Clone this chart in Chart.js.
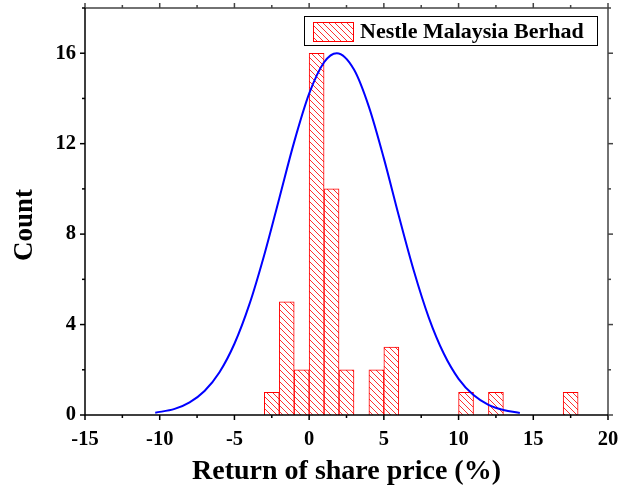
<!DOCTYPE html>
<html>
<head>
<meta charset="utf-8">
<script src="https://cdn.jsdelivr.net/npm/chart.js@4"></script>
<style>
  body { margin: 0; background: #fff; }
  #wrap { width: 624px; height: 490px; position: relative; }
</style>
</head>
<body>
<div id="wrap"><canvas id="chart-1"></canvas></div>
<script>
// histogram bins (left edge of each 1% wide bin) and counts
const binStart = [-3, -2, -1, 0, 1, 2, 4, 5, 10, 12, 17];
const counts = [1, 5, 2, 16, 10, 2, 2, 3, 1, 1, 1];

// fitted normal curve
const curveX = [-10.3, -9, -8, -7, -6, -5, -4, -3, -2, -1, 0, 1, 1.85, 3, 4, 5, 6, 7, 8, 9, 10, 11, 12, 13, 14.1];
const curveY = [0.1, 0.27, 0.56, 1.06, 1.89, 3.15, 4.89, 7.09, 9.58, 12.08, 14.21, 15.6, 16, 15.28, 13.63, 11.35, 8.81, 6.39, 4.32, 2.73, 1.6, 0.88, 0.45, 0.22, 0.09];

const xTicks = [-15, -10, -5, 0, 5, 10, 15, 20];
const yTicks = [0, 4, 8, 12, 16];

const serif = "'Liberation Serif', 'Times New Roman', serif";

function hatch() {
  const s = 6;
  const c = document.createElement('canvas');
  c.width = s; c.height = s;
  const g = c.getContext('2d');
  g.fillStyle = '#fff';
  g.fillRect(0, 0, s, s);
  g.strokeStyle = '#ff3030';
  g.lineWidth = 1;
  g.beginPath();
  g.moveTo(0, 0); g.lineTo(s, s);
  g.moveTo(-1, s - 1); g.lineTo(1, s + 1);
  g.moveTo(s - 1, -1); g.lineTo(s + 1, 1);
  g.stroke();
  return g.createPattern(c, 'repeat');
}
const pattern = hatch();

const frame = {
  id: 'frame',
  afterDatasetsDraw(chart) {
    const ctx = chart.ctx;
    const a = chart.chartArea;
    const xs = chart.scales.x, ys = chart.scales.y;
    ctx.save();
    ctx.lineWidth = 1.5;
    // top and right edges
    ctx.strokeStyle = '#444';
    ctx.beginPath();
    ctx.moveTo(a.left, a.top); ctx.lineTo(a.right, a.top); ctx.lineTo(a.right, a.bottom);
    ctx.stroke();
    // ticks, all pointing outward
    for (let v = -15; v <= 20; v += 2.5) {
      const px = xs.getPixelForValue(v);
      const len = v % 5 === 0 ? 5 : 3;
      ctx.strokeStyle = '#444';
      ctx.beginPath(); ctx.moveTo(px, a.top); ctx.lineTo(px, a.top - len); ctx.stroke();
      ctx.strokeStyle = '#000';
      ctx.beginPath(); ctx.moveTo(px, a.bottom); ctx.lineTo(px, a.bottom + len); ctx.stroke();
    }
    for (let v = 0; v <= 18; v += 2) {
      const py = ys.getPixelForValue(v);
      const len = v % 4 === 0 ? 5 : 3;
      ctx.strokeStyle = '#000';
      ctx.beginPath(); ctx.moveTo(a.left, py); ctx.lineTo(a.left - len, py); ctx.stroke();
      ctx.strokeStyle = '#444';
      ctx.beginPath(); ctx.moveTo(a.right, py); ctx.lineTo(a.right + len, py); ctx.stroke();
    }
    // left and bottom axes
    ctx.strokeStyle = '#000';
    ctx.beginPath();
    ctx.moveTo(a.left, a.top); ctx.lineTo(a.left, a.bottom); ctx.lineTo(a.right, a.bottom);
    ctx.stroke();

    // legend box
    const lx = 304, ly = 16, lw = 293, lh = 29;
    ctx.fillStyle = '#fff';
    ctx.fillRect(lx, ly, lw, lh);
    ctx.lineWidth = 1;
    ctx.strokeStyle = '#000';
    ctx.strokeRect(lx + 0.5, ly + 0.5, lw, lh);
    ctx.fillStyle = pattern;
    ctx.fillRect(313, 22, 40, 19);
    ctx.strokeStyle = '#ff0000';
    ctx.strokeRect(313.5, 22.5, 40, 19);
    ctx.fillStyle = '#000';
    ctx.font = "bold 22px " + serif;
    ctx.textBaseline = 'middle';
    ctx.fillText(chart.data.datasets[1].label, 360, 32);

    // y title
    ctx.translate(25, 225);
    ctx.rotate(-Math.PI / 2);
    ctx.textAlign = 'center';
    ctx.font = "bold 27px " + serif;
    ctx.fillText('Count', 0, 0);
    ctx.restore();
  }
};

const ctx1 = document.getElementById('chart-1').getContext('2d');

const myChart = new Chart(ctx1, {
  type: 'bar',
  data: {
    datasets: [{
      type: 'line',
      label: 'Normal fit',
      data: curveX.map((x, i) => ({ x: x, y: curveY[i] })),
      borderColor: '#0000ff',
      borderWidth: 2,
      pointRadius: 0,
      cubicInterpolationMode: 'monotone',
      order: 0
    }, {
      type: 'bar',
      label: 'Nestle Malaysia Berhad',
      data: binStart.map((b, i) => ({ x: b + 0.5, y: counts[i] })),
      backgroundColor: pattern,
      borderColor: '#ff0000',
      borderWidth: 1,
      barPercentage: 1,
      categoryPercentage: 1,
      order: 1
    }]
  },
  options: {
    responsive: true,
    maintainAspectRatio: false,
    animation: false,
    layout: { padding: { top: 8, right: 16, left: 0, bottom: 0 } },
    plugins: { legend: { display: false }, tooltip: { enabled: false } },
    scales: {
      x: {
        type: 'linear',
        min: -15, max: 20,
        offset: false,
        afterBuildTicks: s => { s.ticks = xTicks.map(v => ({ value: v })); },
        afterFit: s => { s.height = 75; s.paddingLeft = 0; s.paddingRight = 0; },
        grid: { display: false, offset: false },
        border: { display: false },
        ticks: { color: '#000', padding: 4, maxRotation: 0, font: { family: serif, size: 20.5, weight: 'bold' } },
        title: { display: true, text: 'Return of share price (%)', color: '#000', padding: { bottom: 1 }, font: { family: serif, size: 28, weight: 'bold' } }
      },
      y: {
        min: 0, max: 18,
        afterBuildTicks: s => { s.ticks = yTicks.map(v => ({ value: v })); },
        afterFit: s => { s.width = 85; s.paddingTop = 0; s.paddingBottom = 0; },
        grid: { display: false },
        border: { display: false },
        ticks: { color: '#000', padding: 1, font: { family: serif, size: 20.5, weight: 'bold' } }
      }
    }
  },
  plugins: [frame]
});
</script>
</body>
</html>
